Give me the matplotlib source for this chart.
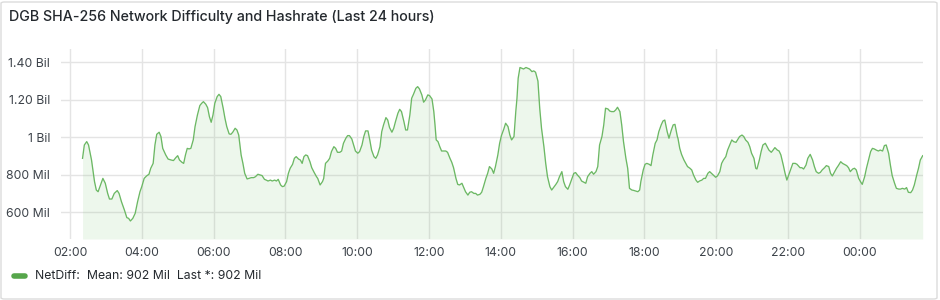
import matplotlib
matplotlib.use("Agg")
import matplotlib.pyplot as plt
from matplotlib.patches import FancyBboxPatch
from matplotlib.lines import Line2D

# ---- data (minutes since 00:00 of first day, values in millions) ----
minutes = [
    141, 144, 148, 151, 156, 161, 164, 167, 171, 175, 179, 183, 186, 190, 194, 199, 202, 206, 211, 215,
    218, 221, 225, 229, 233, 237, 240, 244, 248, 252, 255, 259, 262, 265, 269, 272, 275, 280, 284, 289,
    293, 297, 300, 303, 307, 310, 313, 316, 319, 322, 326, 329,
    333, 337, 340, 343, 347, 350, 353, 356, 359, 362, 366, 369, 372, 376, 379, 382, 386, 389, 392, 396,
    399, 402, 406, 409, 412, 416, 419, 423, 427, 430, 434, 438, 441, 445, 448, 451, 455, 458, 462, 465,
    468, 472, 475, 478, 482, 485, 488, 492, 495, 498, 502, 505, 508, 511, 514, 517, 521, 524, 528, 532,
    534, 536, 538, 542, 544, 547, 551, 554, 557, 561, 564, 567, 571, 574, 577, 581, 584, 587, 591, 594,
    597, 601, 604, 608, 611, 614, 618, 621, 624, 628, 631, 634, 638, 641, 644, 648, 651, 654, 658, 661,
    664, 668, 671, 674, 678, 681, 684, 688, 691, 694, 698, 701, 704, 708, 711, 714, 718, 721, 725, 728,
    730, 732,
    735, 738, 741, 745, 748, 751, 755, 758, 761, 765, 768, 771, 775, 778, 781, 785, 788, 791, 795, 798,
    801, 805, 808, 811, 815, 818, 821, 825, 828, 831, 835, 838, 841, 845, 848, 852, 855, 858, 862, 865,
    867, 869, 872, 875, 878, 882, 885, 888, 892, 895, 898, 902, 905, 908, 912, 915, 918, 922, 925, 928,
    932,
    935, 938, 942, 945, 948, 952, 955, 958, 962, 965, 968, 972, 975, 979, 982, 985, 989, 992, 995, 999,
    1002, 1005, 1009, 1012, 1015, 1019, 1022, 1025, 1029, 1032, 1035, 1039, 1042, 1045, 1049, 1052, 1055,
    1059, 1062, 1065, 1069, 1072, 1074, 1078, 1081, 1084, 1088, 1091, 1094, 1098, 1101, 1104, 1108, 1111,
    1114, 1118, 1121, 1125, 1128, 1131, 1135,
    1136, 1139, 1142, 1146, 1149, 1152, 1156, 1159, 1162, 1166, 1169, 1172, 1176, 1179, 1182, 1186, 1189,
    1192, 1196, 1199, 1202, 1206, 1209, 1212, 1216, 1219, 1223, 1226, 1229, 1233, 1236, 1239, 1243, 1246,
    1249, 1253, 1256, 1259, 1263, 1266, 1268, 1272, 1275, 1278, 1282, 1285, 1288, 1292, 1295, 1298, 1302,
    1305, 1308, 1312, 1315, 1318, 1322, 1325, 1328, 1332, 1335,
    1340, 1343, 1346, 1350, 1353, 1357, 1361, 1364, 1367, 1371, 1374, 1377, 1381, 1384, 1388, 1391, 1394,
    1398, 1401, 1404, 1408, 1411, 1414, 1418, 1421, 1424, 1428, 1431, 1434, 1438, 1441, 1444, 1448, 1451,
    1454, 1458, 1461, 1464, 1468, 1471, 1474, 1478, 1481, 1484, 1488, 1491, 1494, 1498, 1501, 1505, 1508,
    1511, 1515, 1518, 1521, 1525, 1528, 1531, 1535, 1538, 1541, 1545,
]
net_diff = [
    888, 959, 977, 959, 879, 764, 719, 710, 746, 781, 755, 701, 671, 671, 701, 716, 701, 657, 612, 572,
    568, 554, 568, 595, 657, 710, 737, 781, 794, 803, 835, 861, 959, 1016, 1027, 1004, 941, 906, 884, 879,
    876, 892, 902, 879, 867, 861, 906, 941, 938, 941, 986, 1057,
    1119, 1169, 1181, 1190, 1176, 1158, 1110, 1080, 1119, 1181, 1217, 1229, 1217, 1155, 1101, 1057, 1018, 1016, 1027, 1048,
    1039, 1012, 906, 861, 808, 778, 781, 785, 785, 790, 803, 799, 796, 776, 772, 767, 772, 767, 772, 767,
    776, 746, 737, 740, 764, 808, 835, 856, 888, 897, 884, 879, 861, 897, 906, 902, 870, 838, 813, 790,
    781, 764, 746, 764, 781, 861, 874, 888, 924, 950, 941, 920, 920, 927, 968, 995, 1009, 1009, 991, 959,
    927, 915, 924, 959, 1004, 1034, 1034, 986, 932, 897, 888, 906, 950, 1030, 1066, 1105, 1092, 1052, 1027, 1048,
    1084, 1128, 1149, 1137, 1084, 1039, 1039, 1119, 1208, 1229, 1261, 1270, 1258, 1226, 1187, 1199, 1226, 1222, 1204, 1137,
    1066, 986,
    977, 950, 927, 927, 927, 920, 888, 867, 838, 781, 749, 746, 755, 732, 710, 692, 707, 710, 701, 701,
    692, 696, 707, 737, 781, 808, 844, 831, 808, 844, 906, 968, 1009, 1044, 1075, 1057, 1013, 986, 1004, 1137,
    1208, 1315, 1372, 1368, 1364, 1372, 1368, 1364, 1350, 1354, 1347, 1300, 1155, 1048, 950, 861, 790, 737, 719, 732,
    749,
    764, 790, 817, 764, 737, 723, 746, 772, 808, 812, 799, 785, 767, 760, 755, 790, 808, 817, 803, 817,
    844, 959, 1004, 1066, 1155, 1151, 1140, 1137, 1137, 1146, 1160, 1137, 1066, 977, 888, 835, 728,
    719, 717, 714, 710, 719, 764, 826, 856, 861, 856, 849, 906, 968, 986, 1030, 1066, 1087,
    1092, 1030, 995, 1039, 1066, 1069, 1004,
    995, 941, 909, 879, 861, 844, 835, 826, 799, 772, 760, 767, 772, 781, 781, 808, 817,
    808, 796, 787, 794, 817, 861, 879, 897, 932, 963, 986, 977, 973, 989, 1004, 1012, 1004,
    986, 973, 950, 915, 888, 835, 831, 879, 924, 959, 968, 950, 932, 920, 932, 945, 932,
    927, 906, 852, 808, 772, 808, 835, 861, 861, 856,
    838, 838, 831, 852, 888, 909, 879, 844, 817, 808, 813, 826, 838, 849, 844, 808, 794,
    817, 835, 849, 870, 861, 856, 849, 838, 817, 831, 835, 826, 781, 764, 749, 790, 835,
    874, 924, 941, 938, 931, 927, 932, 927, 956, 959, 915, 852, 796, 755, 728, 724, 724,
    728, 724, 732, 707, 705, 719, 746, 799, 835, 879, 902,
]

y_ticks = [600, 800, 1000, 1200, 1400]
y_tick_labels = ["600 Mil", "800 Mil", "1 Bil", "1.20 Bil", "1.40 Bil"]
x_tick_minutes = [120, 240, 360, 480, 600, 720, 840, 960, 1080, 1200, 1320, 1440]
x_tick_labels = ["%02d:00" % ((m // 60) % 24) for m in x_tick_minutes]

title = "DGB SHA-256 Network Difficulty and Hashrate (Last 24 hours)"
series_name = "NetDiff"
mean_label = "902 Mil"
last_label = "902 Mil"

# ---- style ----
plt.rcParams["font.family"] = ["Inter", "DejaVu Sans"]
line_color = "#6cb864"
legend_color = "#56A64B"
text_color = "#24292e"
tick_color = "#3d434a"
grid_color = "#e4e4e4"

W, H = 940, 300
fig = plt.figure(figsize=(W / 100, H / 100), dpi=100)
fig.patch.set_facecolor("white")

# panel border
fig.patches.append(FancyBboxPatch((1 / W, 1 / H), (W - 4) / W, (H - 3) / H,
                                  boxstyle="round,pad=0,rounding_size=0.004",
                                  transform=fig.transFigure, facecolor="none",
                                  edgecolor="#dcdcdc", linewidth=1))

fig.text(9 / W, 1 - 17 / H, title, fontsize=10.25, fontweight="medium",
         color=text_color, va="center", ha="left")

ax_left, ax_right, ax_top, ax_bottom = 61, 922.7, 49.3, 239
ax = fig.add_axes([ax_left / W, 1 - ax_bottom / H, (ax_right - ax_left) / W, (ax_bottom - ax_top) / H])

t_end = minutes[-1]
ax.set_xlim(t_end - 1440, t_end)
ax.set_ylim(458, 1469)

ax.plot(minutes, net_diff, color=line_color, linewidth=0.95, zorder=3)
ax.fill_between(minutes, net_diff, 458, color="#73BF69", alpha=0.12, linewidth=0, zorder=2)

ax.set_yticks(y_ticks)
ax.set_yticklabels(y_tick_labels)
ax.set_xticks(x_tick_minutes)
ax.set_xticklabels(x_tick_labels)
ax.tick_params(axis="both", length=0, labelsize=8.8, colors=tick_color)
ax.tick_params(axis="y", pad=8)
ax.tick_params(axis="x", pad=6)
ax.grid(True, color=grid_color, linewidth=1)
ax.set_axisbelow(True)
for s in ax.spines.values():
    s.set_visible(False)
ax.set_facecolor("none")

# legend
fig.lines.append(Line2D([13.5 / W, 25 / W], [1 - 276 / H, 1 - 276 / H], transform=fig.transFigure,
                        color=legend_color, linewidth=4, solid_capstyle="round"))
fig.text(35 / W, 1 - 276 / H,
         f"{series_name}:  Mean: {mean_label}  Last *: {last_label}",
         fontsize=8.8, color=text_color, va="center", ha="left")

fig.savefig("out.png", dpi=100, facecolor="white")
